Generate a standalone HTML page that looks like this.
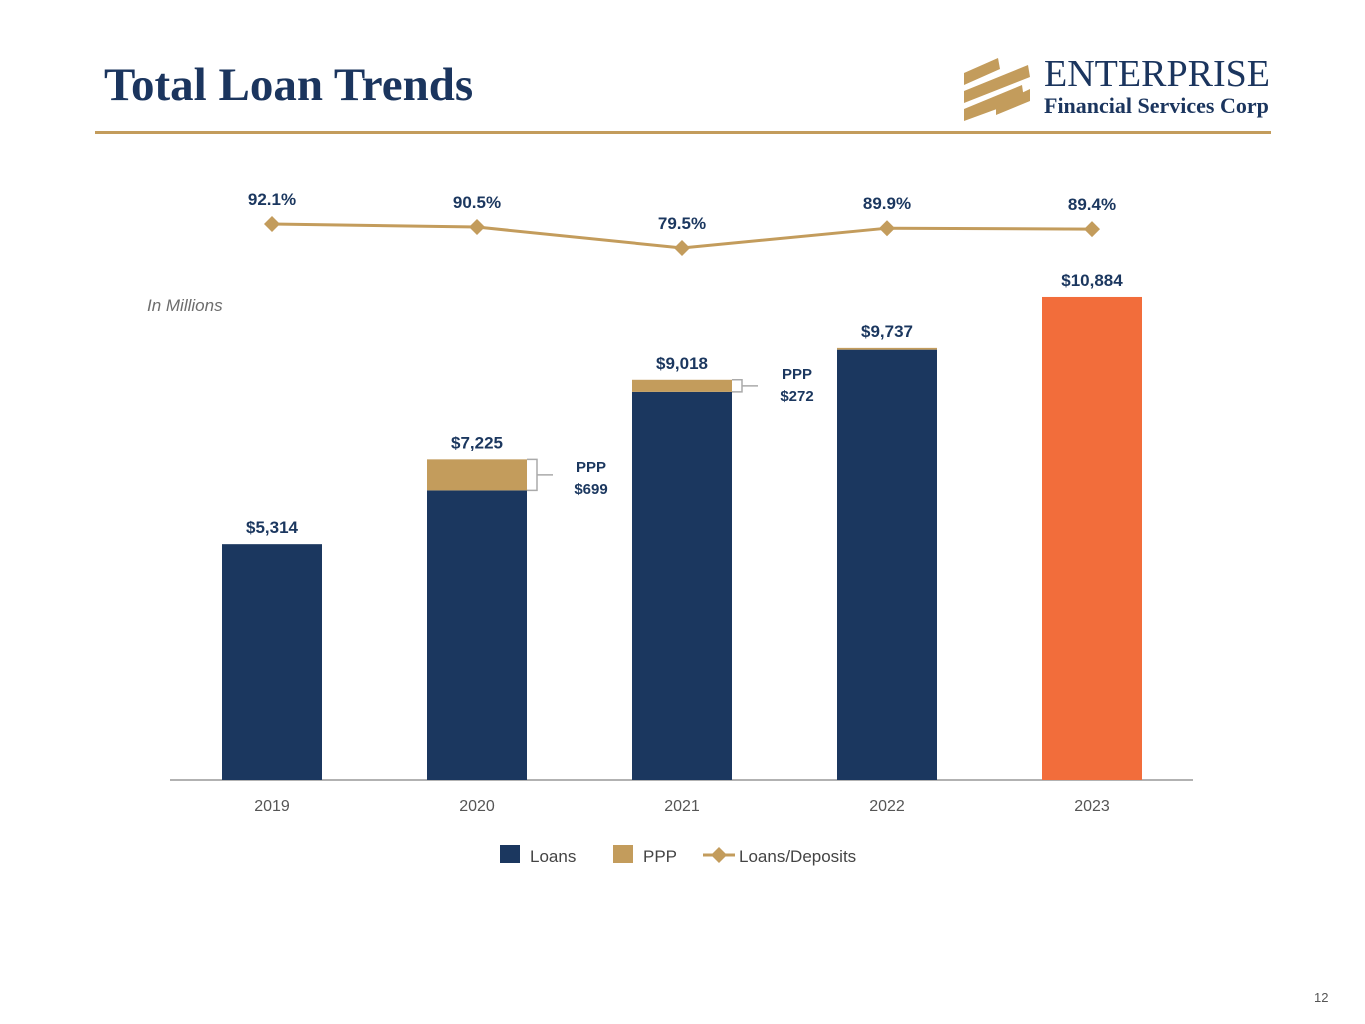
<!DOCTYPE html>
<html><head><meta charset="utf-8"><style>
body{margin:0;width:1365px;height:1024px;background:#fff;position:relative;overflow:hidden;font-family:"Liberation Sans",sans-serif}
.t{position:absolute}
</style></head><body>
<div class="t" style="left:104px;top:58px;font-family:'Liberation Serif',serif;font-size:47px;font-weight:bold;color:#1b355e">Total Loan Trends</div>
<div class="t" style="left:95px;top:131px;width:1176px;height:3px;background:#c39c5c"></div>
<svg class="t" style="left:960px;top:55px" width="320" height="70">
<g fill="#c39c5c"><polygon points="4,18 38,3 40,14 4,30"/><polygon points="4,36 68,10 70,22 4,48"/><polygon points="4,54 62,30 64,44 4,66"/><polygon points="36,50 70,34 70,46 36,60"/></g>
<text x="84" y="31" font-family="Liberation Serif" font-size="38" fill="#1b355e" textLength="226">ENTERPRISE</text>
<text x="84" y="58" font-family="Liberation Serif" font-size="22" font-weight="bold" fill="#1b355e">Financial Services Corp</text>
</svg>
<div class="t" style="left:147px;top:296px;font-style:italic;font-size:17px;color:#6d6d6d">In Millions</div>
<svg id="c" class="t" style="left:0;top:0" width="1365" height="1024"></svg>
<div class="t" style="left:1314px;top:990px;font-size:13px;color:#555">12</div>
<script>
const years=["2019","2020","2021","2022","2023"];
const totals=[5314,7225,9018,9737,10884];
const ppp=[0,699,272,40,0];
const ratio=[92.1,90.5,79.5,89.9,89.4];
const ratioLabels=["92.1%","90.5%","79.5%","89.9%","89.4%"];
const totalLabels=["$5,314","$7,225","$9,018","$9,737","$10,884"];
const svg=document.getElementById('c');const NS='http://www.w3.org/2000/svg';
function mk(t,a,txt){const e=document.createElementNS(NS,t);for(const k in a)e.setAttribute(k,a[k]);if(txt!=null)e.textContent=txt;svg.appendChild(e);return e;}
const x=i=>272+i*205;const y=v=>780-v*0.04438;const ry=v=>224+(92.1-v)*1.905;
const F='Liberation Sans, sans-serif';
let e=mk('line',{x1:170,x2:1193,y1:780,y2:780,stroke:'#999','stroke-width':1.5});

years.forEach((yr,i)=>{
 const loans=totals[i]-ppp[i];
 const r=mk('rect',{x:x(i)-50,width:100,y:y(loans),height:780-y(loans),fill:i==4?'#f26d3b':'#1b375f'});
 
 if(ppp[i]>0){const p=mk('rect',{x:x(i)-50,width:100,y:y(totals[i]),height:y(loans)-y(totals[i]),fill:'#c39c5c'});
 }
 const l=mk('text',{x:x(i),y:y(totals[i])-11,'text-anchor':'middle','font-family':F,'font-size':17,'font-weight':'bold',fill:'#1b375f'},totalLabels[i]);
 
 const t=mk('text',{x:x(i),y:811,'text-anchor':'middle','font-family':F,'font-size':16,fill:'#555'},yr);
 
 if(i==1||i==2){const top=y(totals[i]),bot=y(loans),xr=x(i)+50,mid=(top+bot)/2;
  const b=mk('path',{d:`M${xr} ${top}H${xr+10}V${bot}H${xr}M${xr+10} ${mid}H${xr+26}`,fill:'none',stroke:'#aaa','stroke-width':1.5});
  
  const ax=xr+64-(i==2?-1:0), ay=mid-(i==2?4:0);
  const a=mk('text',{x:ax,y:ay-3,'text-anchor':'middle','font-family':F,'font-size':15,'font-weight':'bold',fill:'#1b375f'},'PPP');
  
  const a2=mk('text',{x:ax,y:ay+19,'text-anchor':'middle','font-family':F,'font-size':15,'font-weight':'bold',fill:'#1b375f'},'$'+ppp[i]);
  }
});
const ln=mk('polyline',{points:ratio.map((v,i)=>x(i)+','+ry(v)).join(' '),fill:'none',stroke:'#c39c5c','stroke-width':3});

ratio.forEach((v,i)=>{const d=mk('polygon',{points:`${x(i)},${ry(v)-8} ${x(i)+8},${ry(v)} ${x(i)},${ry(v)+8} ${x(i)-8},${ry(v)}`,fill:'#c39c5c'});
 
 const t=mk('text',{x:x(i),y:ry(v)-19,'text-anchor':'middle','font-family':F,'font-size':17,'font-weight':'bold',fill:'#1b375f'},ratioLabels[i]);
 });
let g=mk('rect',{x:500,y:845,width:20,height:18,fill:'#1b375f'});
g=mk('text',{x:530,y:862,'font-family':F,'font-size':17,fill:'#444'},'Loans');
g=mk('rect',{x:613,y:845,width:20,height:18,fill:'#c39c5c'});
g=mk('text',{x:643,y:862,'font-family':F,'font-size':17,fill:'#444'},'PPP');
g=mk('line',{x1:703,x2:735,y1:855,y2:855,stroke:'#c39c5c','stroke-width':3});
g=mk('polygon',{points:'719,847 727,855 719,863 711,855',fill:'#c39c5c'});
g=mk('text',{x:739,y:862,'font-family':F,'font-size':17,fill:'#444'},'Loans/Deposits');
</script>
</body></html>
